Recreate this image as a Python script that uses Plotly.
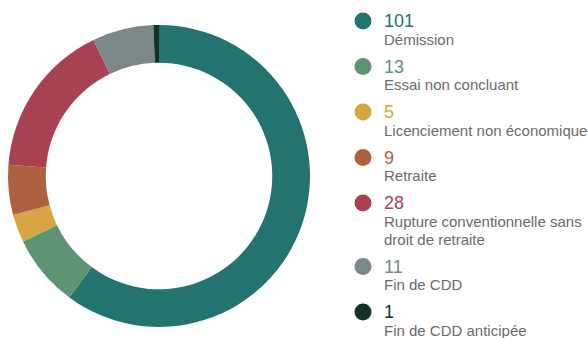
import plotly.graph_objects as go

# Motifs de départ et effectifs
categories = [
    "Démission",
    "Essai non concluant",
    "Licenciement non économique",
    "Retraite",
    "Rupture conventionnelle sans<br>droit de retraite",
    "Fin de CDD",
    "Fin de CDD anticipée",
]
values = [101, 13, 5, 9, 28, 11, 1]
colors = ["#237371", "#5c9474", "#d7a542", "#ae613f", "#a84252", "#7b8888", "#123326"]

W, H = 588, 338
FONT = "Liberation Sans, Arial, sans-serif"

fig = go.Figure()

fig.add_trace(go.Pie(
    labels=[c.replace("<br>", " ") for c in categories],
    values=values,
    hole=0.75,
    sort=False,
    direction="clockwise",
    rotation=0,
    marker=dict(colors=colors, line=dict(width=0)),
    textinfo="none",
    hoverinfo="label+value",
    showlegend=False,
    domain=dict(x=[8 / W, 310 / W], y=[(H - 327) / H, (H - 25) / H]),
))

# Légende personnalisée : pastille, valeur, libellé (une annotation par ligne)
dot_x = 363
text_x = 382
y = 21
dot_x_list, dot_y_list = [], []
annotations = []
for cat, val, col in zip(categories, values, colors):
    dot_x_list.append(dot_x)
    dot_y_list.append(y)
    annotations.append(dict(
        x=text_x, y=y, xref="x", yref="y", text=str(val),
        xanchor="left", yanchor="middle", showarrow=False,
        font=dict(family=FONT, size=18, color=col),
    ))
    lines = cat.split("<br>")
    for k, line in enumerate(lines):
        annotations.append(dict(
            x=text_x, y=y + 18 + 18 * k, xref="x", yref="y", text=line,
            xanchor="left", yanchor="middle", align="left", showarrow=False,
            font=dict(family=FONT, size=15, color="#6b6b6b"),
        ))
    y += 45.5 + 18 * (len(lines) - 1)

fig.add_trace(go.Scatter(
    x=dot_x_list, y=dot_y_list, mode="markers",
    marker=dict(size=17, color=colors, line=dict(width=0)),
    hoverinfo="skip", showlegend=False,
))

fig.update_layout(
    width=W, height=H,
    margin=dict(l=0, r=0, t=0, b=0),
    paper_bgcolor="white", plot_bgcolor="rgba(0,0,0,0)",
    xaxis=dict(range=[0, W], visible=False, fixedrange=True, domain=[0, 1]),
    yaxis=dict(range=[H, 0], visible=False, fixedrange=True, domain=[0, 1]),
    annotations=annotations,
)

fig.write_html("out.html")
